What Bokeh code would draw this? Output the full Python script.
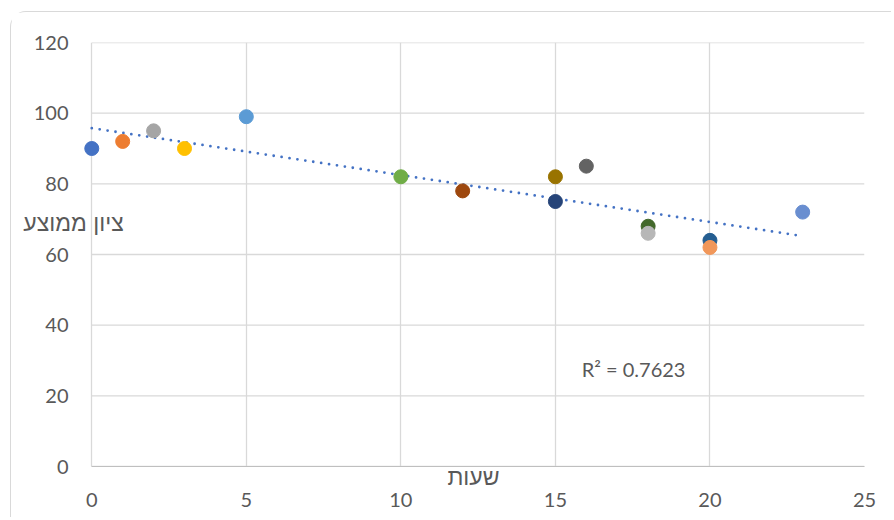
import numpy as np
from bokeh.plotting import figure
from bokeh.models import ColumnDataSource, Label, Range1d, FixedTicker
from bokeh.embed import file_html
from bokeh.resources import INLINE

hours = [0, 1, 2, 3, 5, 10, 12, 15, 15, 16, 18, 18, 20, 20, 23]
scores = [90, 92, 95, 90, 99, 82, 78, 75, 82, 85, 68, 66, 64, 62, 72]
colors = ["#4472C4", "#ED7D31", "#A5A5A5", "#FFC000", "#5B9BD5", "#70AD47",
          "#9E480E", "#264478", "#997300", "#636363", "#43682B", "#B7B7B7",
          "#255E91", "#F1975A", "#698ED0"]
x_ticks = [0, 5, 10, 15, 20, 25]
y_ticks = [0, 20, 40, 60, 80, 100, 120]
r2_text = "R² = 0.7623"
x_title = "שעות"
y_title = "ציון ממוצע"

p = figure(width=881, height=506, output_backend="svg", toolbar_location=None,
           x_range=Range1d(-0.3, 25), y_range=Range1d(0, 120),
           min_border_left=71, min_border_right=28, min_border_top=30, min_border_bottom=52)
p.styles = {"margin-left": "10px", "margin-top": "11px",
            "border-top": "1px solid #d9d9d9", "border-left": "1px solid #d9d9d9",
            "border-top-left-radius": "16px"}
p.outline_line_color = None
p.background_fill_color = "white"
p.border_fill_color = "white"

for ax in (p.xaxis, p.yaxis):
    ax.major_tick_line_color = None
    ax.minor_tick_line_color = None
    ax.major_tick_out = 0
    ax.major_tick_in = 0
    ax.major_label_text_font = "Lato"
    ax.major_label_text_font_size = "20px"
    ax.major_label_text_color = "#595959"
    ax.axis_line_color = "#bfbfbf"
    ax.axis_label_text_font = "Liberation Sans"
    ax.axis_label_text_font_size = "23px"
    ax.axis_label_text_font_style = "normal"
    ax.axis_label_text_color = "#595959"
p.xaxis.ticker = FixedTicker(ticks=x_ticks)
p.yaxis.ticker = FixedTicker(ticks=y_ticks)
p.xaxis.bounds = (x_ticks[0], x_ticks[-1])
p.xaxis.major_label_standoff = 26
p.yaxis.major_label_standoff = 14
p.yaxis.axis_line_color = None
p.xaxis.axis_label = x_title
p.xaxis.axis_label_standoff = -46
p.yaxis.axis_label = y_title + "\n\n"
p.yaxis.axis_label_orientation = "horizontal"
p.yaxis.axis_label_standoff = -93

p.xgrid.ticker = FixedTicker(ticks=x_ticks)
p.xgrid.grid_line_color = "#d9d9d9"
p.xgrid.grid_line_width = 1.3
p.ygrid.visible = False
p.segment(x0=[x_ticks[0]] * len(y_ticks), x1=[x_ticks[-1]] * len(y_ticks),
          y0=y_ticks, y1=y_ticks, line_color="#d9d9d9", line_width=1.3, level="underlay")

# linear trendline (least squares fit of the data)
slope, intercept = np.polyfit(hours, scores, 1)
tx = [min(hours), max(hours)]
ty = [intercept + slope * v for v in tx]
p.line(tx, ty, line_color="#4472C4", line_width=2.8, line_dash="0 8", line_cap="round")

src = ColumnDataSource(dict(x=hours, y=scores, c=colors))
p.scatter("x", "y", source=src, size=14, fill_color="c", line_color="c")

p.add_layout(Label(x=15.85, y=27.5, text=r2_text, text_font="Lato", text_font_size="20px",
                   text_color="#595959", text_baseline="middle"))

open("out.html", "w").write(file_html(p, INLINE))
